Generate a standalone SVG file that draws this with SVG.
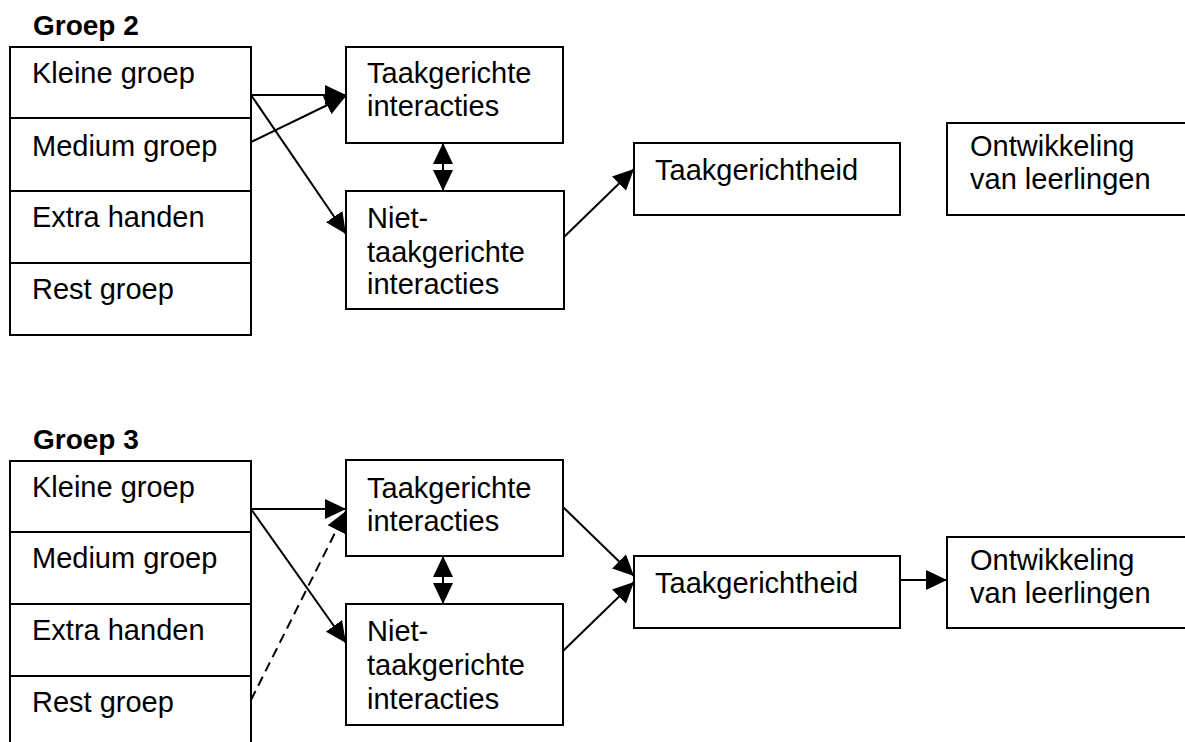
<svg xmlns="http://www.w3.org/2000/svg" width="1185" height="742" viewBox="0 0 1185 742">
<style>
.box{fill:#fff;stroke:#000;stroke-width:2}
.div{stroke:#000;stroke-width:2}
.t{font-family:"Liberation Sans",Arial,sans-serif;font-size:29px;fill:#000}
.h{font-family:"Liberation Sans",Arial,sans-serif;font-size:28px;font-weight:bold;fill:#000}
.c{stroke:#000;stroke-width:2;fill:none;marker-end:url(#ah)}
.d{stroke-dasharray:10,6}
.both{marker-start:url(#ah)}
</style>
<defs>
<marker id="ah" viewBox="0 0 21 20" refX="21" refY="10" markerWidth="21" markerHeight="20" markerUnits="userSpaceOnUse" orient="auto-start-reverse">
<path d="M0,0 L21,10 L0,20 z" fill="#000"/>
</marker>
</defs>
<rect width="1185" height="742" fill="#fff"/>

<text class="h" x="33" y="35">Groep 2</text>
<g id="g2-left">
<rect class="box" x="10" y="47" width="241" height="288"/>
<line class="div" x1="10" y1="118" x2="251" y2="118"/>
<line class="div" x1="10" y1="191" x2="251" y2="191"/>
<line class="div" x1="10" y1="263" x2="251" y2="263"/>
<text class="t" x="32" y="83">Kleine groep</text>
<text class="t" x="32" y="156">Medium groep</text>
<text class="t" x="32" y="227">Extra handen</text>
<text class="t" x="32" y="299">Rest groep</text>
</g>
<g id="g2-ti">
<rect class="box" x="346" y="47" width="217" height="96"/>
<text class="t" x="367" y="83">Taakgerichte</text>
<text class="t" x="367" y="116">interacties</text>
</g>
<g id="g2-nti">
<rect class="box" x="346" y="191" width="218" height="118"/>
<text class="t" x="367" y="228">Niet-</text>
<text class="t" x="367" y="262">taakgerichte</text>
<text class="t" x="367" y="294">interacties</text>
</g>
<g id="g2-tg">
<rect class="box" x="634" y="143" width="266" height="72"/>
<text class="t" x="655" y="180">Taakgerichtheid</text>
</g>
<g id="g2-ont">
<rect class="box" x="947" y="123" width="250" height="92"/>
<text class="t" x="970" y="156">Ontwikkeling</text>
<text class="t" x="970" y="189">van leerlingen</text>
</g>

<text class="h" x="33" y="449">Groep 3</text>
<g id="g3-left">
<rect class="box" x="10" y="461" width="241" height="300"/>
<line class="div" x1="10" y1="532" x2="251" y2="532"/>
<line class="div" x1="10" y1="604" x2="251" y2="604"/>
<line class="div" x1="10" y1="676" x2="251" y2="676"/>
<text class="t" x="32" y="497">Kleine groep</text>
<text class="t" x="32" y="568">Medium groep</text>
<text class="t" x="32" y="640">Extra handen</text>
<text class="t" x="32" y="712">Rest groep</text>
</g>
<g id="g3-ti">
<rect class="box" x="346" y="460" width="217" height="96"/>
<text class="t" x="367" y="498">Taakgerichte</text>
<text class="t" x="367" y="531">interacties</text>
</g>
<g id="g3-nti">
<rect class="box" x="346" y="604" width="217" height="121"/>
<text class="t" x="367" y="641">Niet-</text>
<text class="t" x="367" y="675">taakgerichte</text>
<text class="t" x="367" y="709">interacties</text>
</g>
<g id="g3-tg">
<rect class="box" x="634" y="556" width="266" height="72"/>
<text class="t" x="655" y="593">Taakgerichtheid</text>
</g>
<g id="g3-ont">
<rect class="box" x="947" y="537" width="250" height="91"/>
<text class="t" x="970" y="570">Ontwikkeling</text>
<text class="t" x="970" y="603">van leerlingen</text>
</g>

<g id="connectors">
<line class="c" x1="251" y1="95" x2="346" y2="95"/>
<line class="c" x1="251" y1="142" x2="346" y2="96"/>
<line class="c" x1="251" y1="95" x2="346" y2="234"/>
<line class="c both" x1="443" y1="143" x2="443" y2="191"/>
<line class="c" x1="564" y1="237" x2="634" y2="169"/>

<line class="c" x1="251" y1="509" x2="346" y2="509"/>
<line class="c d" x1="251" y1="700" x2="346" y2="511"/>
<line class="c" x1="251" y1="509" x2="346" y2="643"/>
<line class="c both" x1="443" y1="556" x2="443" y2="604"/>
<line class="c" x1="563" y1="507" x2="634" y2="576"/>
<line class="c" x1="563" y1="651" x2="634" y2="582"/>
<line class="c" x1="900" y1="580" x2="947" y2="580"/>
</g>
</svg>
